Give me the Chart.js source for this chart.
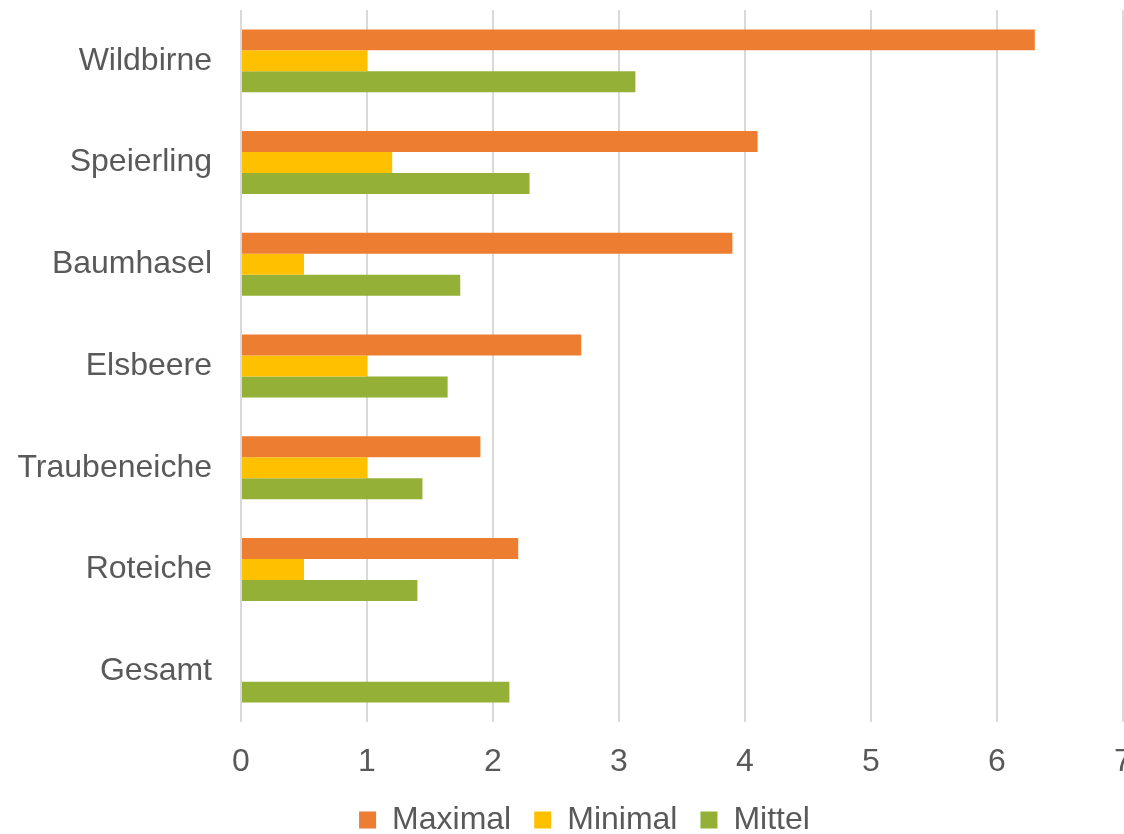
<!DOCTYPE html>
<html>
<head>
<meta charset="utf-8">
<script src="https://cdn.jsdelivr.net/npm/chart.js@4.4.1/dist/chart.umd.min.js"></script>
<style>
  html, body { margin: 0; padding: 0; overflow: hidden; background: #fff; }
  #wrap { width: 1160px; height: 846px; }
</style>
</head>
<body>
<div id="wrap"><canvas id="chart"></canvas></div>
<script>
// Baumarten (Kategorien)
var categories = ['Wildbirne', 'Speierling', 'Baumhasel', 'Elsbeere', 'Traubeneiche', 'Roteiche', 'Gesamt'];

// Werte je Reihe
var maximal = [6.3, 4.1, 3.9, 2.7, 1.9, 2.2, null];
var minimal = [1.0, 1.2, 0.5, 1.0, 1.0, 0.5, null];
var mittel  = [3.13, 2.29, 1.74, 1.64, 1.44, 1.40, 2.13];

var seriesNames = ['Maximal', 'Minimal', 'Mittel'];
var seriesColors = ['#ED7D31', '#FFC000', '#94B037'];

var textColor = '#595959';
var fontFamily = '"Liberation Sans", Arial, sans-serif';
var fontSize = 32;

// Legende etwas nach rechts schieben (wie im Original)
var legendShift = {
    id: 'legendShift',
    afterLayout: function(chart) {
        if (chart.legend) {
            chart.legend.left += 23;
            chart.legend.right += 23;
        }
    }
};

var ctx = document.getElementById('chart').getContext('2d');

new Chart(ctx, {
    type: 'bar',
    data: {
        labels: categories,
        datasets: [maximal, minimal, mittel].map(function(values, i) {
            return {
                label: seriesNames[i],
                data: values,
                backgroundColor: seriesColors[i],
                borderWidth: 0,
                categoryPercentage: 0.619,
                barPercentage: 1.0
            };
        })
    },
    options: {
        indexAxis: 'y',
        responsive: true,
        maintainAspectRatio: false,
        animation: false,
        layout: {
            padding: { top: 10, right: 37, left: 0, bottom: 0 }
        },
        plugins: {
            tooltip: { enabled: false },
            legend: {
                display: true,
                position: 'bottom',
                labels: {
                    boxWidth: 17,
                    boxHeight: 17,
                    padding: 23,
                    color: textColor,
                    font: { family: fontFamily, size: fontSize }
                }
            }
        },
        scales: {
            x: {
                min: 0,
                max: 7,
                ticks: {
                    stepSize: 1,
                    padding: 21,
                    color: textColor,
                    font: { family: fontFamily, size: fontSize }
                },
                grid: {
                    color: '#D9D9D9',
                    lineWidth: 2,
                    drawTicks: false
                },
                border: { display: false },
                afterFit: function(scale) {
                    scale.height = 59;
                }
            },
            y: {
                ticks: {
                    padding: 29,
                    color: textColor,
                    font: { family: fontFamily, size: fontSize }
                },
                grid: { display: false, drawTicks: false },
                border: { display: false },
                afterFit: function(scale) {
                    scale.width = 241;
                    scale.paddingTop = 0;
                    scale.paddingBottom = 0;
                }
            }
        }
    },
    plugins: [legendShift]
});
</script>
</body>
</html>
